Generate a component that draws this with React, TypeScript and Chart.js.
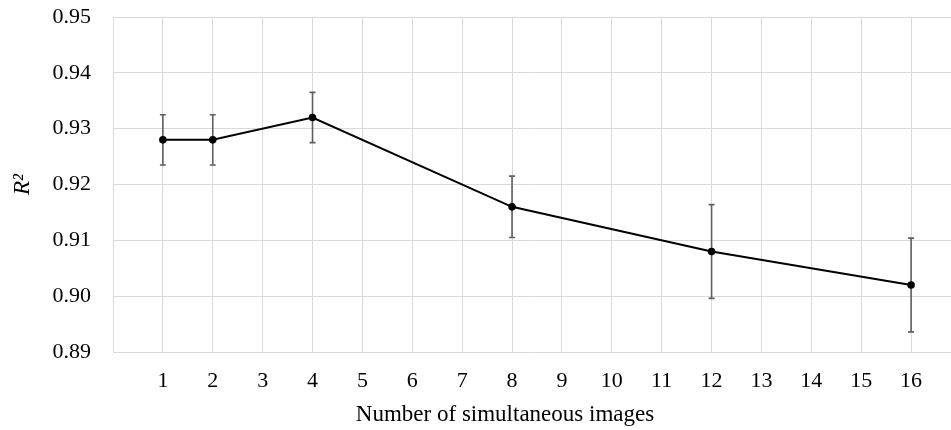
import React, { useEffect, useRef } from "react";
import { Chart, registerables } from "chart.js";

Chart.register(...registerables);

const imageCounts = [1, 2, 4, 8, 12, 16];
const r2Values = [0.928, 0.928, 0.932, 0.916, 0.908, 0.902];
const r2Errors = [0.0045, 0.0045, 0.0045, 0.0055, 0.0084, 0.0084];
const xTickValues = [1, 2, 3, 4, 5, 6, 7, 8, 9, 10, 11, 12, 13, 14, 15, 16];
const yTickValues = [0.89, 0.9, 0.91, 0.92, 0.93, 0.94, 0.95];

const FONT = "'Liberation Serif', 'Times New Roman', serif";

const errorBarPlugin = {
  id: "errorBars",
  beforeDatasetsDraw(chart: any) {
    const ctx = chart.ctx;
    const xs = chart.scales.x;
    const ys = chart.scales.y;
    ctx.save();
    ctx.strokeStyle = "#5f5f5f";
    ctx.lineWidth = 1.6;
    imageCounts.forEach((n, i) => {
      const x = xs.getPixelForValue(n);
      const yTop = ys.getPixelForValue(r2Values[i] + r2Errors[i]);
      const yBot = ys.getPixelForValue(r2Values[i] - r2Errors[i]);
      ctx.beginPath();
      ctx.moveTo(x, yTop);
      ctx.lineTo(x, yBot);
      ctx.moveTo(x - 3, yTop);
      ctx.lineTo(x + 3, yTop);
      ctx.moveTo(x - 3, yBot);
      ctx.lineTo(x + 3, yBot);
      ctx.stroke();
    });
    ctx.restore();
  },
};

// The reference's x-axis title sits a little left of the plot centre.
const titleShiftPlugin = {
  id: "titleShift",
  afterUpdate(chart: any) {
    const s = chart.scales.x;
    if (s && !s.__shifted) {
      const orig = s.drawTitle.bind(s);
      s.drawTitle = (...args: any[]) => {
        const ctx = s.ctx;
        ctx.save();
        ctx.translate(-27, 0);
        orig(...args);
        ctx.restore();
      };
      s.__shifted = true;
    }
  },
};

export default function App() {
  const canvasRef = useRef<HTMLCanvasElement | null>(null);

  useEffect(() => {
    if (!canvasRef.current) return;
    const chart = new Chart(canvasRef.current, {
      type: "line",
      data: {
        datasets: [
          {
            label: "R²",
            data: imageCounts.map((n, i) => ({ x: n, y: r2Values[i] })),
            borderColor: "#000000",
            backgroundColor: "#000000",
            borderWidth: 2,
            pointRadius: 3.8,
            pointHoverRadius: 3.8,
            pointBackgroundColor: "#000000",
            pointBorderWidth: 0,
            tension: 0,
            fill: false,
            clip: false,
          },
        ],
      },
      options: {
        animation: false,
        responsive: false,
        maintainAspectRatio: false,
        layout: { autoPadding: false, padding: { top: 17, right: 0, left: 0, bottom: 0 } },
        plugins: {
          legend: { display: false },
          tooltip: { enabled: false },
        },
        scales: {
          x: {
            type: "linear",
            min: 0,
            max: 16.8,
            afterBuildTicks: (scale: any) => {
              scale.ticks = xTickValues.map((v) => ({ value: v }));
            },
            afterFit: (scale: any) => {
              scale.height = 78;
              scale.paddingLeft = 0;
              scale.paddingRight = 0;
            },
            grid: { color: "#d9d9d9", lineWidth: 1, drawTicks: false },
            border: { color: "#d9d9d9", width: 1 },
            ticks: {
              color: "#000000",
              font: { family: FONT, size: 22 },
              padding: 16,
              maxRotation: 0,
              autoSkip: false,
              callback: (v: any) => String(v),
            },
            title: {
              display: true,
              text: "Number of simultaneous images",
              color: "#000000",
              font: { family: FONT, size: 23 },
              padding: { top: 0, bottom: 1 },
            },
          },
          y: {
            type: "linear",
            min: 0.89,
            max: 0.95,
            afterBuildTicks: (scale: any) => {
              scale.ticks = yTickValues.map((v) => ({ value: v }));
            },
            afterFit: (scale: any) => {
              scale.width = 113;
              scale.paddingTop = 0;
              scale.paddingBottom = 0;
            },
            grid: { color: "#d9d9d9", lineWidth: 1, drawTicks: false },
            border: { color: "#d9d9d9", width: 1 },
            ticks: {
              color: "#000000",
              font: { family: FONT, size: 22 },
              padding: 22,
              callback: (v: any) => Number(v).toFixed(2),
            },
            title: {
              display: true,
              text: "R²",
              color: "#000000",
              font: { family: FONT, size: 23, style: "italic" },
              padding: { top: 9, bottom: 0 },
            },
          },
        },
      },
      plugins: [errorBarPlugin, titleShiftPlugin],
    } as any);
    return () => chart.destroy();
  }, []);

  return (
    <div style={{ position: "fixed", left: 0, top: 0, width: 951, height: 430, background: "#ffffff" }}>
      <canvas ref={canvasRef} width={951} height={430} style={{ display: "block", width: 951, height: 430 }} />
    </div>
  );
}
